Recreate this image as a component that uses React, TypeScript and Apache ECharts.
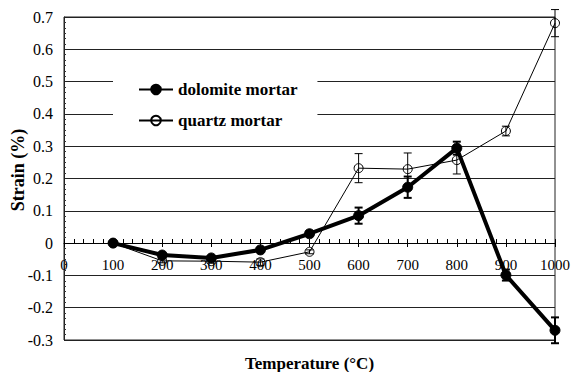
import React, { useEffect, useRef } from "react";
import * as echarts from "echarts";

const temperatures = [100, 200, 300, 400, 500, 600, 700, 800, 900, 1000];
const dolomite = [0, -0.037, -0.046, -0.021, 0.029, 0.085, 0.173, 0.294, -0.099, -0.27];
const dolomiteErr = [0.004, 0.006, 0.006, 0.006, 0.008, 0.025, 0.033, 0.02, 0.017, 0.04];
const quartz = [0, -0.055, -0.056, -0.059, -0.027, 0.232, 0.229, 0.257, 0.347, 0.681];
const quartzErr = [0.004, 0.006, 0.006, 0.01, 0.006, 0.045, 0.05, 0.043, 0.015, 0.042];
const seriesNames = ["dolomite mortar", "quartz mortar"];

const FONT = "'Liberation Serif', 'Times New Roman', serif";

function errorRenderer(lineWidth: number, halfCap: number) {
  return (params: any, api: any) => {
    const x = api.value(0);
    const lo = api.coord([x, api.value(1)]);
    const hi = api.coord([x, api.value(2)]);
    const style = { stroke: "#000", lineWidth };
    return {
      type: "group",
      children: [
        { type: "line", shape: { x1: lo[0], y1: lo[1], x2: hi[0], y2: hi[1] }, style },
        { type: "line", shape: { x1: lo[0] - halfCap, y1: lo[1], x2: lo[0] + halfCap, y2: lo[1] }, style },
        { type: "line", shape: { x1: hi[0] - halfCap, y1: hi[1], x2: hi[0] + halfCap, y2: hi[1] }, style },
      ],
    };
  };
}

export default function App() {
  const ref = useRef<HTMLDivElement>(null);
  useEffect(() => {
    if (!ref.current) return;
    const chart = echarts.init(ref.current, undefined, { renderer: "svg" });
    const dolData = temperatures.map((t, i) => [t, dolomite[i]]);
    const qData = temperatures.map((t, i) => [t, quartz[i]]);
    const dolErrData = temperatures.map((t, i) => [t, dolomite[i] - dolomiteErr[i], dolomite[i] + dolomiteErr[i]]);
    const qErrData = temperatures.map((t, i) => [t, quartz[i] - quartzErr[i], quartz[i] + quartzErr[i]]);
    const zeroOffset = -97;
    chart.setOption({
      animation: false,
      backgroundColor: "#fff",
      textStyle: { fontFamily: FONT },
      grid: {
        left: 64,
        right: 20,
        top: 17,
        bottom: 32,
        containLabel: false,
        outerBoundsMode: "none",
        show: true,
        borderColor: "#222",
        borderWidth: 1,
      },
      legend: {
        left: 113,
        top: 71,
        orient: "vertical",
        backgroundColor: "#fff",
        padding: [10, 20, 10, 25],
        itemWidth: 34,
        itemHeight: 12,
        itemGap: 14,
        textStyle: { fontFamily: FONT, fontSize: 17, fontWeight: "bold", color: "#000" },
        data: seriesNames,
      },
      xAxis: [
        {
          type: "value",
          min: 0,
          max: 1000,
          interval: 100,
          position: "bottom",
          offset: zeroOffset,
          name: "Temperature (°C)",
          nameLocation: "middle",
          nameGap: 112,
          nameTextStyle: { fontFamily: FONT, fontSize: 17, fontWeight: "bold", color: "#000" },
          axisLine: { onZero: false, lineStyle: { color: "#000", width: 1 } },
          axisTick: { show: true, inside: true, length: 4, lineStyle: { color: "#000" } },
          minorTick: { show: true, splitNumber: 5, length: 4, lineStyle: { color: "#000" } },
          axisLabel: {
            fontFamily: FONT,
            fontSize: 15,
            color: "#000",
            margin: 14,
            formatter: (v: number) => String(v),
          },
          splitLine: { show: false },
        },
        {
          type: "value",
          min: 0,
          max: 1000,
          interval: 100,
          position: "bottom",
          offset: zeroOffset,
          axisLine: { show: false, onZero: false },
          axisTick: { show: true, inside: false, length: 4, lineStyle: { color: "#000" } },
          minorTick: { show: false },
          axisLabel: { show: false },
          splitLine: { show: false },
        },
      ],
      yAxis: {
        type: "value",
        min: -0.3,
        max: 0.7,
        interval: 0.1,
        name: "Strain (%)",
        nameLocation: "middle",
        nameGap: 37,
        nameMoveOverlap: false,
        nameTextStyle: { fontFamily: FONT, fontSize: 18, fontWeight: "bold", color: "#000", padding: [0, 0, 0, 17] },
        axisLine: { show: true, onZero: false, lineStyle: { color: "#222", width: 1 } },
        axisTick: { show: false, inside: true },
        minorTick: { show: true, splitNumber: 6, length: 2, lineStyle: { color: "#333", width: 1 } },
        axisLabel: {
          fontFamily: FONT,
          fontSize: 16,
          color: "#000",
          margin: 11,
          formatter: (v: number) => String(parseFloat(v.toFixed(1))),
        },
        splitLine: { show: true, lineStyle: { color: "#222", width: 1 } },
      },
      series: [
        {
          name: seriesNames[1],
          type: "line",
          data: qData,
          symbol: "circle",
          symbolSize: 9,
          lineStyle: { color: "#000", width: 1 },
          itemStyle: { color: "transparent", borderColor: "#000", borderWidth: 1 },
          z: 3,
        },
        {
          name: "quartz error",
          type: "custom",
          renderItem: errorRenderer(1, 4),
          data: qErrData,
          encode: { x: 0, y: [1, 2] },
          z: 4,
        },
        {
          name: seriesNames[0],
          type: "line",
          data: dolData,
          symbol: "circle",
          symbolSize: 10,
          lineStyle: { color: "#000", width: 4 },
          itemStyle: { color: "#000", borderColor: "#000", borderWidth: 1 },
          z: 5,
        },
        {
          name: "dolomite error",
          type: "custom",
          renderItem: errorRenderer(2, 4),
          data: dolErrData,
          encode: { x: 0, y: [1, 2] },
          z: 6,
        },
      ],
    });
    return () => chart.dispose();
  }, []);
  return <div ref={ref} style={{ width: 575, height: 372, position: "absolute", left: 0, top: 0 }} />;
}
